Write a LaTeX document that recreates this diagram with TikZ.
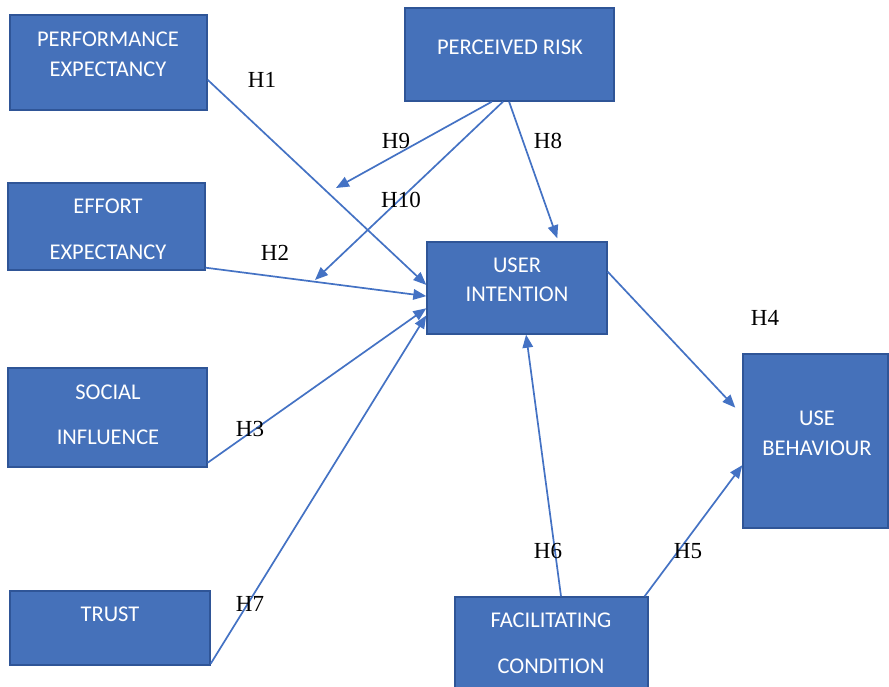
\documentclass[tikz,border=0pt]{standalone}
\usepackage{fontspec}
\setmainfont{Liberation Serif}
\newfontfamily\boxfont{Carlito}
\usetikzlibrary{calc,arrows.meta}
\definecolor{boxblue}{HTML}{4571BA}
\definecolor{boxedge}{HTML}{2F5597}
\definecolor{linkblue}{HTML}{4472C4}
\tikzset{
  construct/.style={rectangle, fill=boxblue, draw=boxedge, line width=1.4pt, inner sep=0pt},
  boxtext/.style={text=white, font=\boxfont\fontsize{22.5}{26}\selectfont, inner sep=0pt, anchor=center},
  hyp/.style={font=\fontsize{23}{26}\selectfont, inner sep=0pt, anchor=center},
  link/.style={draw=linkblue, line width=1.7pt, -{Triangle[length=13pt,width=10.5pt]}},
}
\begin{document}
\begin{tikzpicture}[x=1pt,y=-1pt]
\useasboundingbox (0,0) rectangle (889,687);
\fill[white] (0,0) rectangle (889,687);

% constructs
\node[construct, minimum width=197, minimum height=95] (pe) at (108.5,62.5) {};
\node[boxtext] at (108,39) {PERFORMANCE};
\node[boxtext] at (108,69) {EXPECTANCY};

\node[construct, minimum width=209, minimum height=93] (pr) at (509.5,54.5) {};
\node[boxtext] at (510,47) {PERCEIVED RISK};

\node[construct, minimum width=197, minimum height=87] (ee) at (106.5,226.5) {};
\node[boxtext] at (108,206) {EFFORT};
\node[boxtext] at (108,252) {EXPECTANCY};

\node[construct, minimum width=180, minimum height=92] (ui) at (517,288) {};
\node[boxtext] at (517,265) {USER};
\node[boxtext] at (517,294) {INTENTION};

\node[construct, minimum width=199, minimum height=99] (si) at (107.5,417.5) {};
\node[boxtext] at (108,392) {SOCIAL};
\node[boxtext] at (108,437) {INFLUENCE};

\node[construct, minimum width=145, minimum height=174] (ub) at (815.5,441) {};
\node[boxtext] at (817,418) {USE};
\node[boxtext] at (817,448) {BEHAVIOUR};

\node[construct, minimum width=200, minimum height=74] (tr) at (110,628) {};
\node[boxtext] at (110,614) {TRUST};

\node[construct, minimum width=193, minimum height=95] (fc) at (551.5,644.5) {};
\node[boxtext] at (551,620) {FACILITATING};
\node[boxtext] at (551,666) {CONDITION};

% free ends of the moderating paths
\coordinate (h9end) at (336,188);
\coordinate (h10end) at (315,280);

% hypothesised paths
\draw[link] ($(pe.north east)!0.68!(pe.south east)$) -- ($(ui.north west)!0.467!(ui.south west)$);
\draw[link] ($(ee.north east)!0.966!(ee.south east)$) -- ($(ui.north west)!0.587!(ui.south west)$);
\draw[link] ($(si.north east)!0.95!(si.south east)$) -- ($(ui.north west)!0.717!(ui.south west)$);
\draw[link] ($(tr.north east)!0.973!(tr.south east)$) -- ($(ui.north west)!0.793!(ui.south west)$);
\draw[link] ($(pr.south west)!0.498!(pr.south east)$) -- ($(ui.north west)!0.722!(ui.north east)+(0,-3)$);
\draw[link] ($(pr.south west)!0.416!(pr.south east)$) -- (h9end);
\draw[link] ($(pr.south west)!0.469!(pr.south east)$) -- (h10end);
\draw[link] ($(ui.north east)!0.326!(ui.south east)$) -- ($(ub.north west)!0.31!(ub.south west)+(-7,0)$);
\draw[link] ($(fc.north west)!0.979!(fc.north east)$) -- ($(ub.north west)!0.638!(ub.south west)$);
\draw[link] ($(fc.north west)!0.549!(fc.north east)$) -- ($(ui.south west)!0.55!(ui.south east)$);

% hypothesis labels
\node[hyp] (l1) at (262,80) {H1};
\node[hyp] (l9) at (396,141) {H9};
\node[hyp] (l8) at (548,141) {H8};
\node[hyp] (l10) at (401,200) {H10};
\node[hyp] (l2) at (275,253) {H2};
\node[hyp] (l4) at (765,318) {H4};
\node[hyp] (l3) at (250,429) {H3};
\node[hyp] (l7) at (250,604) {H7};
\node[hyp] (l6) at (548,551) {H6};
\node[hyp] (l5) at (688,551) {H5};
\end{tikzpicture}
\end{document}
